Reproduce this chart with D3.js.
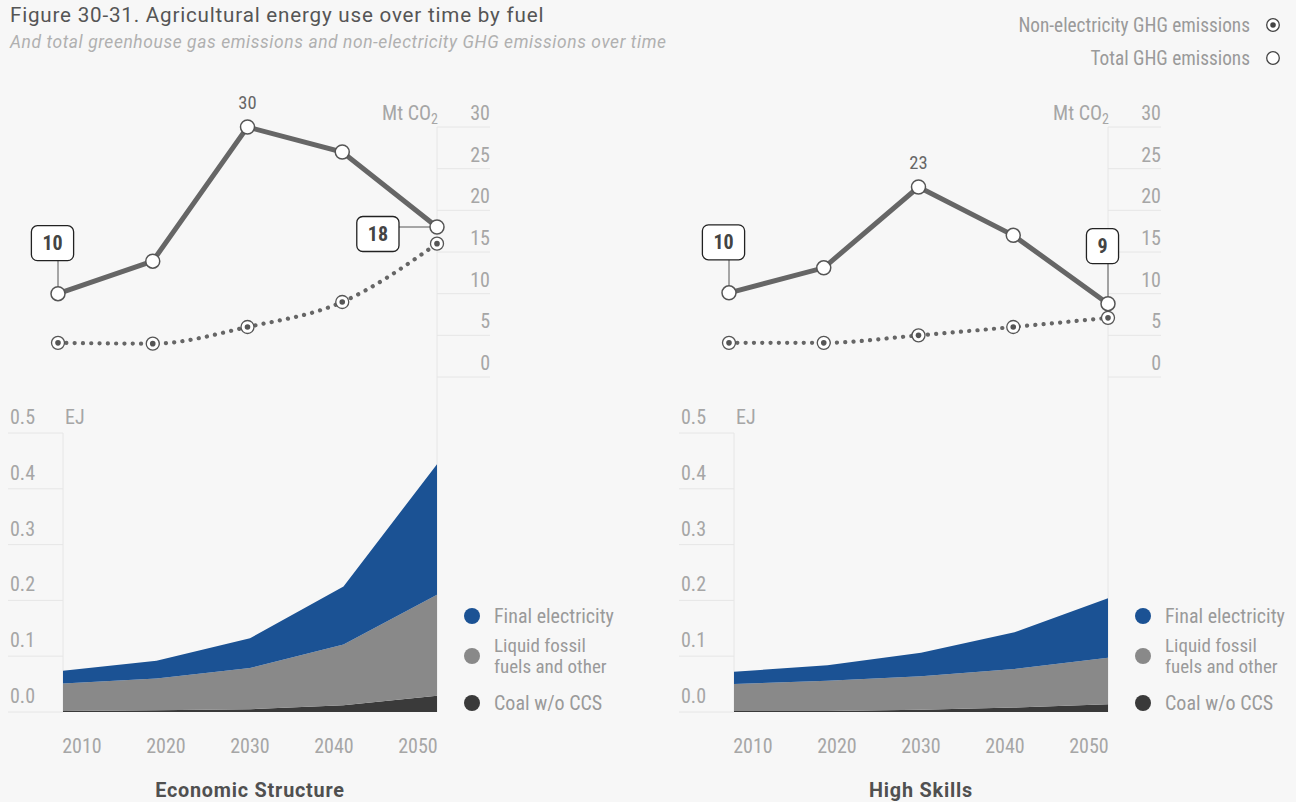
<!DOCTYPE html>
<html><head><meta charset="utf-8">
<script src="https://cdn.jsdelivr.net/npm/d3@7"></script>
<style>
body{margin:0;background:#f7f7f7;}
svg{display:block;font-family:"Liberation Sans Narrow","Roboto Condensed","DejaVu Sans Condensed",sans-serif;}
.wide{font-family:Roboto,"Liberation Sans",sans-serif;}
</style></head><body><svg id="c" width="1296" height="802"></svg>
<script>
// ---------- data ----------
const years = [2010, 2020, 2030, 2040, 2050];
const scenarios = ["Economic Structure", "High Skills"];
const totalGHG_ES = [10.0, 13.9, 30.0, 27.0, 18.0];
const nonElecGHG_ES = [4.1, 4.0, 6.0, 9.0, 16.0];
const totalGHG_HS = [10.1, 13.1, 22.8, 17.0, 8.8];
const nonElecGHG_HS = [4.1, 4.1, 5.0, 6.0, 7.1];
const coal_ES = [0.002, 0.003, 0.005, 0.012, 0.029];
const liquid_ES = [0.049, 0.057, 0.074, 0.109, 0.181];
const elec_ES = [0.023, 0.032, 0.053, 0.104, 0.234];
const coal_HS = [0.002, 0.002, 0.004, 0.008, 0.014];
const liquid_HS = [0.048, 0.054, 0.060, 0.069, 0.083];
const elec_HS = [0.022, 0.028, 0.042, 0.066, 0.107];
const ghgTicks = [0, 5, 10, 15, 20, 25, 30];
const ejTicks = [0, 0.1, 0.2, 0.3, 0.4, 0.5];
const fuelKeys = ["coal", "liquid", "elec"];
const fuelLabels = [["Coal w/o CCS"], ["Liquid fossil", "fuels and other"], ["Final electricity"]];
const ghgLegend = ["Non-electricity GHG emissions", "Total GHG emissions"];
const title = "Figure 30-31. Agricultural energy use over time by fuel";
const subtitle = "And total greenhouse gas emissions and non-electricity GHG emissions over time";

// ---------- styles ----------
const BG = "#f7f7f7", GRID = "#e6e6e6", AXT = "#a6a6a6", LINE = "#666666", MK = "#555555";
const fuelColors = {coal: "#3a3a3a", liquid: "#898989", elec: "#1b5294"};

const svg = d3.select("#c");
svg.append("rect").attr("width", 1296).attr("height", 802).attr("fill", BG);

svg.append("text").attr("class", "wide").attr("x", 10).attr("y", 22).attr("font-size", 20.6)
  .attr("letter-spacing", 0.8).attr("fill", "#555").text(title);
svg.append("text").attr("class", "wide").attr("x", 10).attr("y", 48).attr("font-size", 17.4)
  .attr("letter-spacing", 0.6).attr("font-style", "italic").attr("fill", "#b0b0b0").text(subtitle);

// top-right legend
const lg = svg.append("g");
ghgLegend.forEach((t, i) => {
  const y = 25 + i * 33;
  lg.append("text").attr("x", 1250).attr("y", y).attr("dy", "0.35em").attr("text-anchor", "end")
    .attr("font-size", 19.3).attr("fill", "#9a9a9a").text(t);
  lg.append("circle").attr("cx", 1273).attr("cy", y).attr("r", 6.3).attr("fill", "#fff")
    .attr("stroke", "#444").attr("stroke-width", 1.3);
  if (i === 0) lg.append("circle").attr("cx", 1273).attr("cy", y).attr("r", 2.8).attr("fill", "#444");
});

const panels = [
  {name: scenarios[0], total: totalGHG_ES, nonElec: nonElecGHG_ES, coal: coal_ES, liquid: liquid_ES, elec: elec_ES, lastSide: "left", lastGap: 33},
  {name: scenarios[1], total: totalGHG_HS, nonElec: nonElecGHG_HS, coal: coal_HS, liquid: liquid_HS, elec: elec_HS, lastSide: "above", lastGap: 40}
];

panels.forEach((p, pi) => {
  const g = svg.append("g").attr("transform", `translate(${pi * 671},0)`);

  // scales
  const xt = d3.scalePoint().domain(years).range([58, 437]);
  const yt = d3.scaleLinear().domain([0, 30]).range([377, 127]);
  const xb = d3.scaleLinear().domain([2010, 2050]).range([63, 437]);
  const yb = d3.scaleLinear().domain([0, 0.5]).range([712, 433]);
  const xl = d3.scalePoint().domain(years).range([82, 418]);

  // top grid (right side)
  ghgTicks.forEach(t => {
    g.append("line").attr("x1", xt(2050)).attr("x2", 490).attr("y1", yt(t)).attr("y2", yt(t))
      .attr("stroke", GRID).attr("stroke-width", 1);
    g.append("text").attr("x", 490).attr("y", yt(t) - 14).attr("dy", "0.35em").attr("text-anchor", "end")
      .attr("font-size", 20).attr("fill", AXT).text(t);
  });
  const mt = g.append("text").attr("x", 438).attr("y", yt(30) - 14).attr("dy", "0.35em").attr("text-anchor", "end")
    .attr("font-size", 20).attr("fill", AXT);
  mt.append("tspan").text("Mt CO");
  mt.append("tspan").attr("font-size", 14).attr("dy", 4).text("2");

  // bottom grid (left side)
  ejTicks.forEach(t => {
    g.append("line").attr("x1", 8).attr("x2", xb(2010)).attr("y1", yb(t)).attr("y2", yb(t))
      .attr("stroke", GRID).attr("stroke-width", 1);
    g.append("text").attr("x", 10).attr("y", yb(t) - 16).attr("dy", "0.35em")
      .attr("font-size", 20).attr("fill", AXT).text(d3.format(".1f")(t));
  });
  g.append("text").attr("x", 65).attr("y", yb(0.5) - 16).attr("dy", "0.35em")
    .attr("font-size", 20).attr("fill", AXT).text("EJ");

  // vertical axis lines
  g.append("line").attr("x1", xb(2010)).attr("x2", xb(2010)).attr("y1", yb(0.5)).attr("y2", yb(0))
    .attr("stroke", GRID);
  g.append("line").attr("x1", xt(2050)).attr("x2", xt(2050)).attr("y1", yt(30)).attr("y2", yb(0))
    .attr("stroke", GRID);

  // stacked area
  const table = years.map((yr, i) => ({year: yr, coal: p.coal[i], liquid: p.liquid[i], elec: p.elec[i]}));
  const stack = d3.stack().keys(fuelKeys)(table);
  const area = d3.area().x(d => xb(d.data.year)).y0(d => yb(d[0])).y1(d => yb(d[1]));
  g.selectAll(".ar").data(stack).join("path").attr("d", area).attr("fill", d => fuelColors[d.key]);

  // x labels
  years.forEach(yr => {
    g.append("text").attr("x", xl(yr)).attr("y", 746).attr("dy", "0.35em").attr("text-anchor", "middle")
      .attr("font-size", 20).attr("fill", AXT).text(yr);
  });
  g.append("text").attr("class", "wide").attr("x", (xb(2010) + xb(2050)) / 2).attr("y", 797)
    .attr("text-anchor", "middle").attr("font-size", 19.8).attr("letter-spacing", 0.8)
    .attr("font-weight", "bold").attr("fill", "#505050").text(p.name);

  // area legend
  const legY = {elec: 616, liquid: 656, coal: 703};
  fuelKeys.forEach((k, i) => {
    g.append("circle").attr("cx", 472).attr("cy", legY[k]).attr("r", 8).attr("fill", fuelColors[k]);
    const lines = fuelLabels[i];
    const tx = g.append("text").attr("x", 494).attr("y", legY[k] - (lines.length - 1) / 2 * 21)
      .attr("font-size", lines.length > 1 ? 19 : 20).attr("fill", "#9a9a9a");
    lines.forEach((ln, j) => {
      tx.append("tspan").attr("x", 494).attr("dy", j === 0 ? "0.35em" : 21).text(ln);
    });
  });

  // lines
  const tot = years.map((yr, i) => [yr, p.total[i]]);
  const ne = years.map((yr, i) => [yr, p.nonElec[i]]);
  g.append("path").attr("d", d3.line().x(d => xt(d[0])).y(d => yt(d[1]))(tot))
    .attr("fill", "none").attr("stroke", LINE).attr("stroke-width", 5);
  g.append("path").attr("d", d3.line().curve(d3.curveMonotoneX).x(d => xt(d[0])).y(d => yt(d[1]))(ne))
    .attr("fill", "none").attr("stroke", LINE).attr("stroke-width", 4.2)
    .attr("stroke-dasharray", "0.1 8.2").attr("stroke-linecap", "round");

  // markers
  ne.forEach(d => {
    g.append("circle").attr("cx", xt(d[0])).attr("cy", yt(d[1])).attr("r", 6.5).attr("fill", "#fff")
      .attr("stroke", MK).attr("stroke-width", 1.3);
    g.append("circle").attr("cx", xt(d[0])).attr("cy", yt(d[1])).attr("r", 2.8).attr("fill", MK);
  });
  tot.forEach(d => {
    g.append("circle").attr("cx", xt(d[0])).attr("cy", yt(d[1])).attr("r", 7).attr("fill", "#fff")
      .attr("stroke", MK).attr("stroke-width", 1.5);
  });

  // annotations
  const imax = d3.maxIndex(p.total);
  g.append("text").attr("x", xt(years[imax])).attr("y", yt(p.total[imax]) - 24).attr("dy", "0.35em")
    .attr("text-anchor", "middle").attr("font-size", 18.5).attr("fill", "#666").text(Math.round(p.total[imax]));

  function box(i, side, gap) {
    const px = xt(years[i]), py = yt(p.total[i]);
    const bg = g.insert("g", "circle");
    const t = g.append("text").attr("font-size", 20).attr("font-weight", "bold").attr("fill", "#444")
      .attr("text-anchor", "middle").attr("dy", "0.35em").text(Math.round(p.total[i]));
    const tw = t.node().getComputedTextLength();
    const bw = tw + 22, bh = 35;
    let cx, cy;
    if (side === "above") {
      cx = px - 5.5; cy = py - gap - bh / 2;
      bg.append("line").attr("x1", px).attr("x2", px).attr("y1", py).attr("y2", cy + bh / 2)
        .attr("stroke", "#555").attr("stroke-width", 1);
    } else {
      cx = px - 38 - bw / 2; cy = py + 7;
      bg.append("line").attr("x1", px).attr("x2", cx + bw / 2).attr("y1", py).attr("y2", py)
        .attr("stroke", "#555").attr("stroke-width", 1);
    }
    g.append("rect").attr("x", cx - bw / 2).attr("y", cy - bh / 2).attr("width", bw).attr("height", bh)
      .attr("rx", 6).attr("fill", "#fff").attr("stroke", "#222").attr("stroke-width", 1.3);
    t.attr("x", cx).attr("y", cy).raise();
  }
  box(0, "above", 33);
  box(years.length - 1, p.lastSide, p.lastGap);
});
</script></body></html>
